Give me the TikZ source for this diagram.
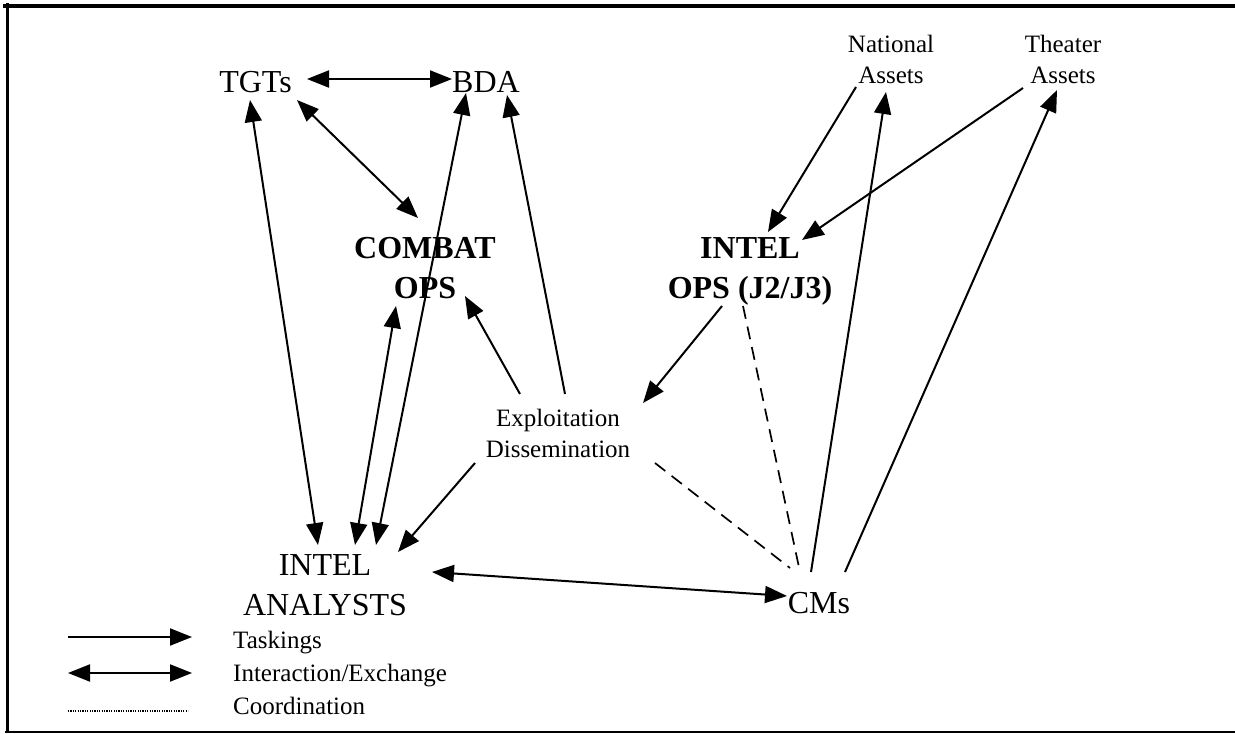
\documentclass[tikz,border=0pt]{standalone}
\usepackage{fontspec}
\setmainfont{Liberation Serif}
\usetikzlibrary{arrows.meta}
\begin{document}
\begin{tikzpicture}[x=1pt,y=-1pt,
  big/.style={inner sep=0pt,anchor=base,align=center,font=\fontsize{32}{40}\selectfont},
  bigb/.style={big,font=\fontsize{32}{40}\selectfont\bfseries},
  small/.style={inner sep=0pt,anchor=base,align=center,font=\fontsize{25}{31}\selectfont},
  legtext/.style={inner sep=0pt,anchor=base west,font=\fontsize{25}{31}\selectfont},
  conn/.style={line width=2pt},
  tip/.style={conn,-{Triangle[length=22pt,width=17pt]}},
  both/.style={conn,{Triangle[length=22pt,width=17pt]}-{Triangle[length=22pt,width=17pt]}},
  coord/.style={line width=1.7pt,dash pattern=on 13pt off 8pt},
  frame/.style={line cap=rect}]
\useasboundingbox (0,0) rectangle (1235,734);
% frame
\draw[frame,line width=4pt] (5,5.5) -- (1235,5.5);
\draw[frame,line width=3pt] (7,4) -- (7,731.5);
\draw[frame,line width=2pt] (5.5,731.5) -- (1235,731.5);
% nodes (base = baseline of the last line)
\node[big] (tgt) at (255.5,92) {TGTs};
\node[big] (bda) at (486,92) {BDA};
\node[bigb] (combat) at (425,298) {COMBAT\\OPS};
\node[bigb] (intops) at (750,298) {INTEL\\OPS (J2/J3)};
\node[small] (natl) at (891,83) {National\\Assets};
\node[small] (theat) at (1063,83) {Theater\\Assets};
\node[small] (expl) at (558,457) {Exploitation\\Dissemination};
\node[big] (anal) at (325,615) {INTEL\\ANALYSTS};
\node[big] (cms) at (819,613) {CMs};
% connectors
\draw[both] ([shift={(51.5,-13)}]tgt.base) -- ([shift={(-34,-13)}]bda.base);
\draw[both] ([shift={(41.5,8)}]tgt.base) -- ([shift={(-7,-80)}]combat.base);
\draw[both] ([shift={(-5.5,8)}]tgt.base) -- ([shift={(-7,-70)}]anal.base);
\draw[both] ([shift={(-20,1)}]bda.base) -- ([shift={(51,-70)}]anal.base);
\draw[both] ([shift={(-29,8)}]combat.base) -- ([shift={(30,-70)}]anal.base);
\draw[tip] ([shift={(-38,-63)}]expl.base) -- ([shift={(40,-2)}]combat.base);
\draw[tip] ([shift={(7,-63)}]expl.base) -- ([shift={(21,3)}]bda.base);
\draw[tip] ([shift={(-28,8)}]intops.base) -- ([shift={(85,-54)}]expl.base);
\draw[tip] ([shift={(-83,6)}]expl.base) -- ([shift={(73,-63)}]anal.base);
\draw[both] ([shift={(107,-43)}]anal.base) -- ([shift={(-32,-17)}]cms.base);
\draw[tip] ([shift={(-35,4)}]natl.base) -- ([shift={(18,-66)}]intops.base);
\draw[tip] ([shift={(-40,5)}]theat.base) -- ([shift={(52,-58)}]intops.base);
\draw[tip] ([shift={(-8,-41)}]cms.base) -- ([shift={(-5,9)}]natl.base);
\draw[tip] ([shift={(26,-41)}]cms.base) -- ([shift={(-6,7)}]theat.base);
\draw[coord] ([shift={(-7,8)}]intops.base) -- ([shift={(-19,-41)}]cms.base);
\draw[coord] ([shift={(97,6)}]expl.base) -- ([shift={(-29,-45)}]cms.base);
% legend
\coordinate (l1a) at (68,637); \coordinate (l1b) at (192,637);
\coordinate (l2a) at (68,673); \coordinate (l2b) at (192,673);
\coordinate (l3a) at (68,711); \coordinate (l3b) at (188,711);
\draw[tip] (l1a) -- (l1b);
\draw[both] (l2a) -- (l2b);
\draw[line width=1.2pt,dash pattern=on 1.2pt off 1.2pt] (l3a) -- (l3b);
\node[legtext] (lt1) at (233,648) {Taskings};
\node[legtext] (lt2) at (233,681) {Interaction/Exchange};
\node[legtext] (lt3) at (233,714) {Coordination};
\end{tikzpicture}
\end{document}
